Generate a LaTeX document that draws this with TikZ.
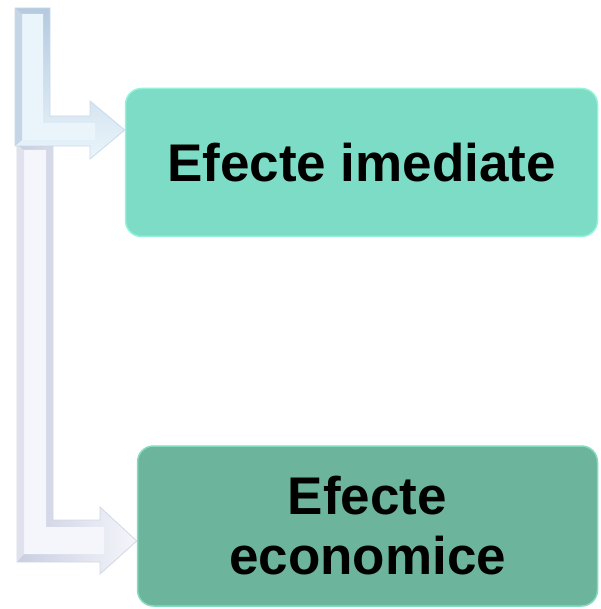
\documentclass[tikz,border=0pt]{standalone}
\usepackage{fontspec}
\setmainfont{Liberation Sans}
\begin{document}
\begin{tikzpicture}[x=1pt,y=-1pt,
  boxstyle/.style={rounded corners=16pt, inner sep=0pt, font=\bfseries\fontsize{53}{60}\selectfont, align=center, text=black},
  barup/.style={draw=barupedge, line width=0.8pt, left color=barupdark, right color=barupface, shading angle=0},
  barlow/.style={draw=barlowedge, line width=0.8pt, left color=barlowdark, right color=barlowface},
  faceup/.style={fill=barupface, draw=none},
  facelow/.style={fill=barlowface, draw=none}]
\definecolor{barupdark}{HTML}{B5CADF}
\definecolor{barupface}{HTML}{EAF5FB}
\definecolor{barupedge}{HTML}{C9DAEA}
\definecolor{barlowdark}{HTML}{C9CEE0}
\definecolor{barlowface}{HTML}{F5F6FB}
\definecolor{barlowedge}{HTML}{D3D7E6}
\definecolor{boxone}{HTML}{7DDCC5}
\definecolor{boxoneedge}{HTML}{92F2DA}
\definecolor{boxtwo}{HTML}{6CB59C}
\definecolor{boxtwoedge}{HTML}{83DCBE}
\useasboundingbox (0,0) rectangle (600,609);
% boxes
\node[boxstyle, fill=boxone, draw=boxoneedge, line width=1.5pt, minimum width=472pt, minimum height=148pt] (imm) at (361.5,162.5) {Efecte imediate};
\node[boxstyle, fill=boxtwo, draw=boxtwoedge, line width=1.5pt, minimum width=460pt, minimum height=160pt] (eco) at (367.5,526) {Efecte\\economice};
% anchors of the bars
\coordinate (tipone) at (imm.west |- 0,130);
\coordinate (tiptwo) at (eco.west |- 0,541);
% lower L-shaped arrow
\draw[barlow] (17,145) -- (53,145) -- (53,520) -- (100,520) -- (100,507) -- (tiptwo) -- (100,574) -- (100,562) -- (17,562) -- cycle;
\fill[facelow] (24,150) -- (46,150) -- (46,527) -- (104,527) -- (104,554) -- (24,554) -- cycle;
\fill[barlowdark!60] (17,145) -- (24,150) -- (24,554) -- (17,562) -- cycle;
% upper L-shaped arrow
\draw[barup] (15,8) -- (50,8) -- (50,116) -- (90,116) -- (90,101) -- (tipone) -- (90,159) -- (90,146) -- (15,146) -- cycle;
\fill[faceup] (22,14) -- (43,14) -- (43,123) -- (95,123) -- (95,140) -- (22,140) -- cycle;
\fill[barupdark!80] (15,8) -- (22,14) -- (22,140) -- (15,146) -- cycle;
\end{tikzpicture}
\end{document}
